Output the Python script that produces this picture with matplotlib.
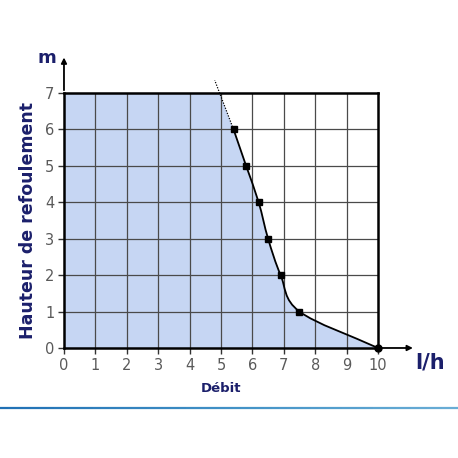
import numpy as np
import matplotlib
matplotlib.use("Agg")
import matplotlib.pyplot as plt
from matplotlib.path import Path
from matplotlib.patches import PathPatch
from matplotlib.collections import LineCollection

# data
debit = [5.4, 5.8, 6.2, 6.5, 6.9, 7.5, 10.0]
hauteur = [6, 5, 4, 3, 2, 1, 0]
extrap_x = [5.4, 4.8]
extrap_y = [6, 7.35]
xticks = list(range(0, 11))
yticks = list(range(0, 8))

navy = "#1b1f6b"
tickc = "#555555"

fig = plt.figure(figsize=(4.58, 4.58), dpi=100)
ax = fig.add_axes([0.1397, 0.2402, 0.6856, 0.5568])
ax.set_xlim(0, 10)
ax.set_ylim(0, 7)

# smooth path through points (Catmull-Rom -> cubic Bezier)
pts = np.array(list(zip(debit, hauteur)), dtype=float)
n = len(pts)
tang = []
for i in range(n):
    if i == 0:
        tang.append(pts[1] - pts[0])
    elif i == n - 1:
        tang.append(pts[-1] - pts[-2])
    else:
        tang.append((pts[i + 1] - pts[i - 1]) / 2)
verts = [tuple(pts[0])]
codes = [Path.MOVETO]
for i in range(n - 1):
    c1 = pts[i] + tang[i] / 3
    c2 = pts[i + 1] - tang[i + 1] / 3
    verts += [tuple(c1), tuple(c2), tuple(pts[i + 1])]
    codes += [Path.CURVE4] * 3

# x where extrapolated line meets y=7
x7 = extrap_x[0] + (7 - extrap_y[0]) * (extrap_x[1] - extrap_x[0]) / (extrap_y[1] - extrap_y[0])
fill_verts = [(0, 0), (0, 7), (x7, 7)] + verts[0:1] + verts[1:] + [(0, 0)]
fill_codes = [Path.MOVETO, Path.LINETO, Path.LINETO, Path.LINETO] + codes[1:] + [Path.CLOSEPOLY]
ax.add_patch(PathPatch(Path(fill_verts, fill_codes), facecolor="#c6d6f3", edgecolor="none", zorder=1))

# grid
for x in xticks[1:-1]:
    ax.plot([x, x], [0, 7], color="#4a4a4a", lw=0.9, zorder=2)
for y in yticks[1:-1]:
    ax.plot([0, 10], [y, y], color="#4a4a4a", lw=0.9, zorder=2)

# curve
ax.add_patch(PathPatch(Path(verts, codes), facecolor="none", edgecolor="black", lw=1.3, zorder=4))
ax.plot(extrap_x, extrap_y, color="black", lw=0.9, ls=(0, (1, 1.2)), clip_on=False, zorder=4)
ax.plot(debit[:-1], hauteur[:-1], "s", color="black", ms=5, zorder=5)
ax.plot(debit[-1:], hauteur[-1:], "o", color="black", ms=5, zorder=5, clip_on=False)

for s in ax.spines.values():
    s.set_linewidth(1.8)
    s.set_color("black")
    s.set_zorder(6)

ax.set_xticks(xticks)
ax.set_yticks(yticks)
ax.tick_params(axis="both", direction="out", length=4, width=1, color="#333333",
               labelcolor="#5a5a5a", labelsize=10.5, pad=3)

# arrows
ax.annotate("", xy=(0, 8.05), xytext=(0, 7), xycoords="data",
            arrowprops=dict(arrowstyle="-|>", color="black", lw=1.3, mutation_scale=8),
            annotation_clip=False)
ax.annotate("", xy=(11.2, 0), xytext=(10, 0), xycoords="data",
            arrowprops=dict(arrowstyle="-|>", color="black", lw=1.3, mutation_scale=8),
            annotation_clip=False)

ax.text(-0.55, 7.97, "m", color=navy, fontsize=13, fontweight="bold", ha="center", va="center")
ax.text(11.65, -0.4, "l/h", color=navy, fontsize=15, fontweight="bold", ha="center", va="center")
ax.set_xlabel("Débit", color=navy, fontsize=9.5, fontweight="bold", labelpad=7)
ax.set_ylabel("Hauteur de refoulement", color=navy, fontsize=12.5, fontweight="bold", labelpad=6)

# bottom gradient line
xs = np.linspace(0, 1, 60)
segs = [[(xs[i], 0.109), (xs[i + 1], 0.109)] for i in range(len(xs) - 1)]
cols = [plt.cm.Blues(0.75 - 0.25 * t) for t in xs[:-1]]
lc = LineCollection(segs, colors=cols, linewidths=1.6, transform=fig.transFigure)
fig.add_artist(lc)

fig.savefig("out.png", dpi=100)
